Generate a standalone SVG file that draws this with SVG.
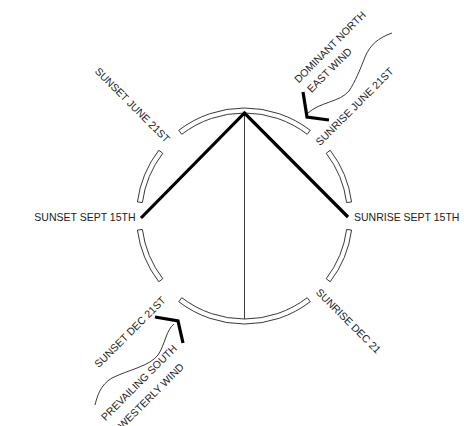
<svg xmlns="http://www.w3.org/2000/svg" width="464" height="426" viewBox="0 0 464 426">
<style>
.seg{fill:#fff;stroke:#222;stroke-width:0.9}
.t{font-family:"Liberation Sans",Arial,sans-serif;font-size:10.5px;fill:#222}
.thick{fill:none;stroke:#000;stroke-width:3.2;stroke-linecap:butt;stroke-linejoin:miter}
.thin{fill:none;stroke:#222;stroke-width:0.9}
</style>
<rect width="464" height="426" fill="#fff"/>
<g id="ring">
<path class="seg" d="M178.75,130.31 A108,108 0 0 1 310.25,130.31 L307.21,134.28 A103,103 0 0 0 181.79,134.28 Z"/>
<path class="seg" d="M330.19,150.25 A108,108 0 0 1 351.57,201.91 L346.61,202.56 A103,103 0 0 0 326.22,153.29 Z"/>
<path class="seg" d="M351.57,230.09 A108,108 0 0 1 330.19,281.75 L326.22,278.71 A103,103 0 0 0 346.61,229.44 Z"/>
<path class="seg" d="M310.25,301.69 A108,108 0 0 1 178.75,301.69 L181.79,297.72 A103,103 0 0 0 307.21,297.72 Z"/>
<path class="seg" d="M158.81,281.75 A108,108 0 0 1 137.43,230.09 L142.39,229.44 A103,103 0 0 0 162.78,278.71 Z"/>
<path class="seg" d="M137.43,201.91 A108,108 0 0 1 158.81,150.25 L162.78,153.29 A103,103 0 0 0 142.39,202.56 Z"/>
</g>
<g id="connectors">
<line class="thin" x1="244.5" y1="113" x2="244.5" y2="319"/>
<polyline class="thick" points="141,218 244.5,113 348,217"/>
<polyline class="thick" points="303,92 307,117 329,120"/>
<path class="thin" d="M392,33 C378,38 370,45 365,57 C360,70 355,82 349,91 C340,102 320,102 308,113"/>
<polyline class="thick" points="155,317 178,321 183,343"/>
<path class="thin" d="M174,324 C166,330 165,345 158,355 C150,366 128,370 112,378 C100,385 97,397 95,405"/>
</g>
<g id="labels">
<text class="t" x="135.5" y="221" text-anchor="end">SUNSET SEPT 15TH</text>
<text class="t" x="354" y="221">SUNRISE SEPT 15TH</text>
<text class="t" transform="translate(132.5,105) rotate(45)" text-anchor="middle" dy="0.35em">SUNSET JUNE 21ST</text>
<text class="t" transform="translate(354.5,106.5) rotate(-45)" text-anchor="middle" dy="0.35em">SUNRISE JUNE 21ST</text>
<text class="t" transform="translate(348.5,321) rotate(45)" text-anchor="middle" dy="0.35em">SUNRISE DEC 21</text>
<text class="t" transform="translate(130,332) rotate(-45)" text-anchor="middle" dy="0.35em">SUNSET DEC 21ST</text>
<text class="t" transform="translate(330,47) rotate(-45)" text-anchor="middle" dy="0.35em">DOMINANT NORTH</text>
<text class="t" transform="translate(329.5,70) rotate(-45)" text-anchor="middle" dy="0.35em">EAST WIND</text>
<text class="t" transform="translate(139,382.5) rotate(-45)" text-anchor="middle" dy="0.35em">PREVAILING SOUTH</text>
<text class="t" transform="translate(151,396) rotate(-45)" text-anchor="middle" dy="0.35em">WESTERLY WIND</text>
</g>
</svg>
